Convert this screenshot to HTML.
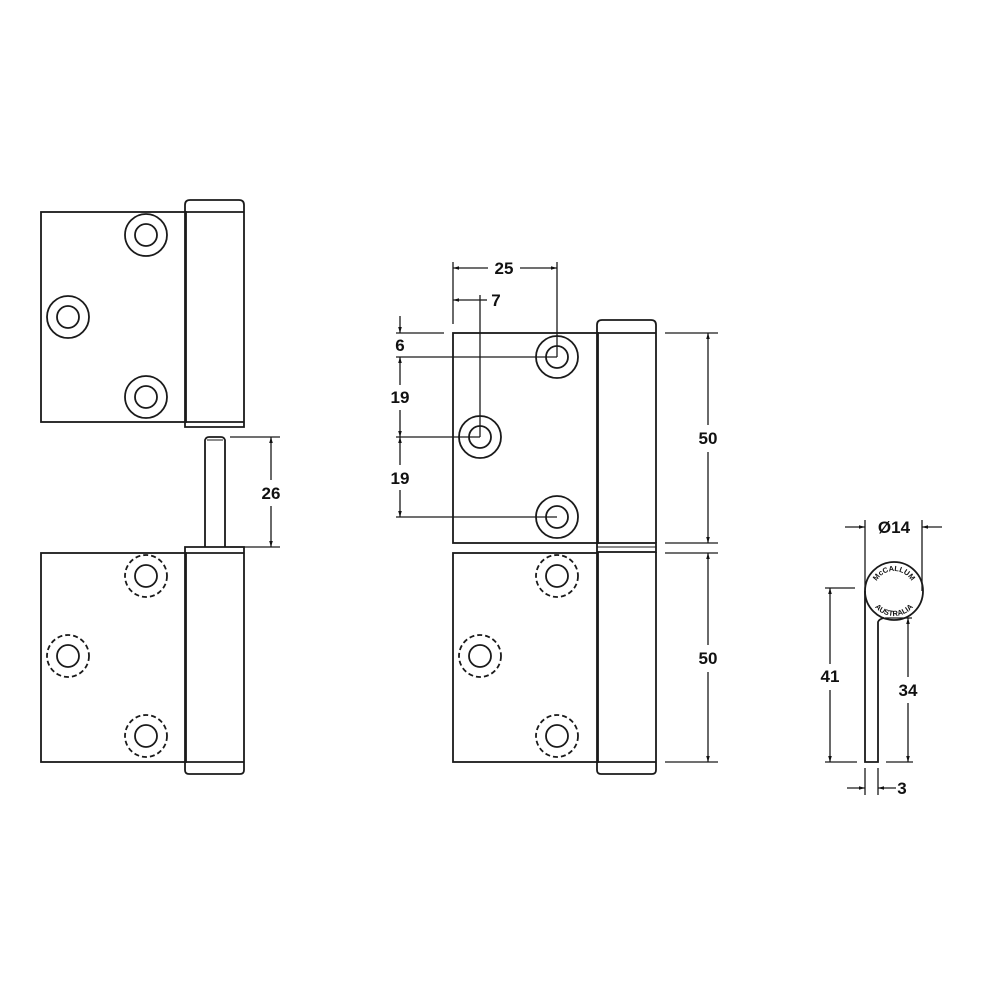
<!DOCTYPE html>
<html><head><meta charset="utf-8"><style>
html,body{margin:0;padding:0;background:#fff;}
svg{display:block}
text{font-family:"Liberation Sans",sans-serif;font-weight:bold;font-size:17px;fill:#111}
</style></head><body>
<svg width="1000" height="1000" viewBox="0 0 1000 1000" xmlns="http://www.w3.org/2000/svg">
<defs>
<marker id="a" viewBox="0 0 10 10" refX="10" refY="5" markerWidth="10" markerHeight="6" orient="auto-start-reverse" markerUnits="userSpaceOnUse"><path d="M0,2 L10,5 L0,8 z" fill="#111"/></marker>
</defs>
<g fill="none" stroke="#1a1a1a" stroke-width="1.8">
<!-- Left top -->
<rect x="41" y="212" width="145" height="210"/>
<path d="M185,427 L185,205 Q185,200 190,200 L239,200 Q244,200 244,205 L244,427 Z"/>
<line x1="185" y1="212" x2="244" y2="212"/>
<line x1="185" y1="422" x2="244" y2="422"/>
<circle cx="146" cy="235" r="21"/><circle cx="146" cy="235" r="11"/>
<circle cx="68" cy="317" r="21"/><circle cx="68" cy="317" r="11"/>
<circle cx="146" cy="397" r="21"/><circle cx="146" cy="397" r="11"/>
<!-- pin -->
<path d="M205,547 L205,440 Q206,437 209,437 L221,437 Q224,437 225,440 L225,547"/>
<line x1="207" y1="440" x2="223" y2="440" stroke-width="1"/>
<!-- Left bottom -->
<rect x="41" y="553" width="145" height="209"/>
<path d="M185,547 L244,547 L244,770 Q244,774 240,774 L189,774 Q185,774 185,770 Z"/>
<line x1="185" y1="553" x2="244" y2="553"/>
<line x1="185" y1="762" x2="244" y2="762"/>
<g stroke-dasharray="5,3"><circle cx="146" cy="576" r="21"/><circle cx="68" cy="656" r="21"/><circle cx="146" cy="736" r="21"/></g>
<circle cx="146" cy="576" r="11"/><circle cx="68" cy="656" r="11"/><circle cx="146" cy="736" r="11"/>
<!-- 26 dim -->
<line x1="230" y1="437" x2="280" y2="437" stroke-width="1.3"/>
<line x1="230" y1="547" x2="280" y2="547" stroke-width="1.3"/>
<line x1="271" y1="437" x2="271" y2="480" stroke-width="1.3" marker-start="url(#a)"/>
<line x1="271" y1="506" x2="271" y2="547" stroke-width="1.3" marker-end="url(#a)"/>

<!-- Middle top -->
<rect x="453" y="333" width="145" height="210"/>
<path d="M597,543 L597,325 Q597,320 602,320 L651,320 Q656,320 656,325 L656,543"/>
<line x1="597" y1="333" x2="656" y2="333"/>
<rect x="597" y="543" width="59" height="9"/>
<line x1="597" y1="547" x2="656" y2="547" stroke-width="1"/>
<circle cx="557" cy="357" r="21"/><circle cx="557" cy="357" r="11"/>
<circle cx="480" cy="437" r="21"/><circle cx="480" cy="437" r="11"/>
<circle cx="557" cy="517" r="21"/><circle cx="557" cy="517" r="11"/>
<!-- Middle bottom -->
<rect x="453" y="553" width="145" height="209"/>
<path d="M597,552 L597,770 Q597,774 601,774 L652,774 Q656,774 656,770 L656,552"/>
<line x1="597" y1="762" x2="656" y2="762"/>
<g stroke-dasharray="5,3"><circle cx="557" cy="576" r="21"/><circle cx="480" cy="656" r="21"/><circle cx="557" cy="736" r="21"/></g>
<circle cx="557" cy="576" r="11"/><circle cx="480" cy="656" r="11"/><circle cx="557" cy="736" r="11"/>
<!-- dims middle -->
<g stroke-width="1.3">
<line x1="453" y1="262" x2="453" y2="324"/>
<line x1="557" y1="262" x2="557" y2="357"/>
<line x1="453" y1="268" x2="488" y2="268" marker-start="url(#a)"/>
<line x1="520" y1="268" x2="557" y2="268" marker-end="url(#a)"/>
<line x1="480" y1="295" x2="480" y2="437"/>
<line x1="453" y1="300" x2="480" y2="300" marker-start="url(#a)"/>
<line x1="480" y1="300" x2="487" y2="300"/>
<line x1="396" y1="333" x2="444" y2="333"/>
<line x1="396" y1="357" x2="557" y2="357"/>
<line x1="396" y1="437" x2="480" y2="437"/>
<line x1="396" y1="517" x2="557" y2="517"/>
<line x1="400" y1="316" x2="400" y2="333" marker-end="url(#a)"/>
<line x1="400" y1="357" x2="400" y2="385" marker-start="url(#a)"/>
<line x1="400" y1="410" x2="400" y2="437" marker-end="url(#a)"/>
<line x1="400" y1="437" x2="400" y2="465" marker-start="url(#a)"/>
<line x1="400" y1="490" x2="400" y2="517" marker-end="url(#a)"/>
<line x1="665" y1="333" x2="718" y2="333"/>
<line x1="665" y1="543" x2="718" y2="543"/>
<line x1="665" y1="553" x2="718" y2="553"/>
<line x1="665" y1="762" x2="718" y2="762"/>
<line x1="708" y1="333" x2="708" y2="425" marker-start="url(#a)"/>
<line x1="708" y1="452" x2="708" y2="543" marker-end="url(#a)"/>
<line x1="708" y1="553" x2="708" y2="645" marker-start="url(#a)"/>
<line x1="708" y1="672" x2="708" y2="762" marker-end="url(#a)"/>
</g>

<!-- Right side view -->
<circle cx="894" cy="591" r="29"/>
<path d="M865,591 L865,762 L878,762 L878,622 Q879,619 884,618"/>
<g stroke-width="1.3">
<line x1="865" y1="520" x2="865" y2="591"/>
<line x1="922" y1="520" x2="922" y2="591"/>
<line x1="845" y1="527" x2="865" y2="527" marker-end="url(#a)"/>
<line x1="942" y1="527" x2="922" y2="527" marker-end="url(#a)"/>
<line x1="825" y1="588" x2="855" y2="588"/>
<line x1="825" y1="762" x2="857" y2="762"/>
<line x1="886" y1="762" x2="913" y2="762"/>
<line x1="885" y1="618" x2="912" y2="618"/>
<line x1="830" y1="588" x2="830" y2="664" marker-start="url(#a)"/>
<line x1="830" y1="690" x2="830" y2="762" marker-end="url(#a)"/>
<line x1="908" y1="618" x2="908" y2="677" marker-start="url(#a)"/>
<line x1="908" y1="703" x2="908" y2="762" marker-end="url(#a)"/>
<line x1="865" y1="768" x2="865" y2="795"/>
<line x1="878" y1="768" x2="878" y2="795"/>
<line x1="847" y1="788" x2="865" y2="788" marker-end="url(#a)"/>
<line x1="896" y1="788" x2="878" y2="788" marker-end="url(#a)"/>
</g>
</g>
<path id="tp" d="M874,591 A20,20 0 0 1 914,591" fill="none"/>
<path id="bp" d="M869,591 A25,25 0 0 0 919,591" fill="none"/>
<text style="font-size:7.5px"><textPath href="#tp" startOffset="50%" text-anchor="middle">McCALLUM</textPath></text>
<text style="font-size:7.5px"><textPath href="#bp" startOffset="50%" text-anchor="middle">AUSTRALIA</textPath></text>

<text x="271" y="499" text-anchor="middle">26</text>
<text x="504" y="274" text-anchor="middle">25</text>
<text x="496" y="306" text-anchor="middle">7</text>
<text x="400" y="351" text-anchor="middle">6</text>
<text x="400" y="403" text-anchor="middle">19</text>
<text x="400" y="484" text-anchor="middle">19</text>
<text x="708" y="444" text-anchor="middle">50</text>
<text x="708" y="664" text-anchor="middle">50</text>
<text x="894" y="533" text-anchor="middle">Ø14</text>
<text x="830" y="682" text-anchor="middle">41</text>
<text x="908" y="696" text-anchor="middle">34</text>
<text x="902" y="794" text-anchor="middle">3</text>
</svg>
</body></html>
